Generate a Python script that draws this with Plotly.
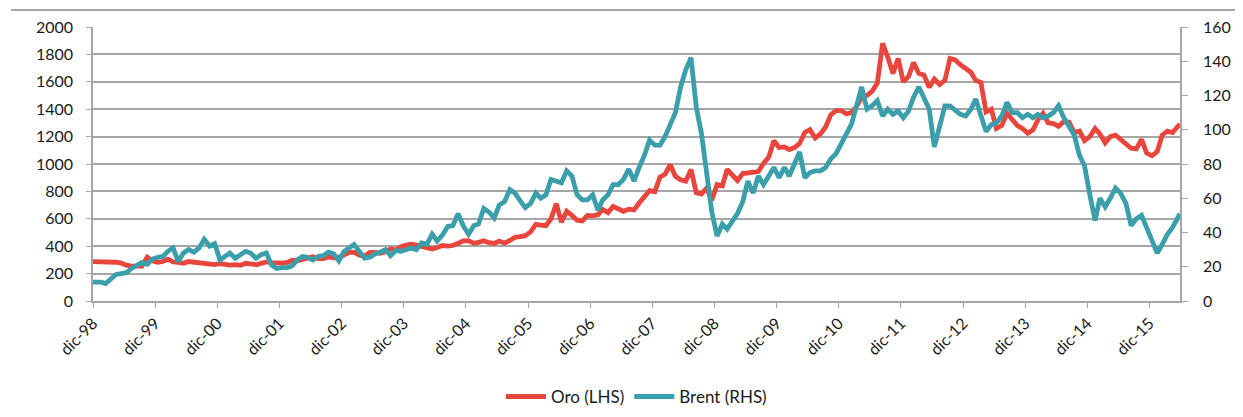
import pandas as pd
import plotly.graph_objects as go

# ---- data (mid-month readings, Dec-98 start, late Jun-16 end) ----
start_date = "1998-12-31"
end_date = "2016-06-28"
mid_month = pd.date_range("1999-01-15", "2016-06-15", freq="MS") + pd.Timedelta(days=14)

oro = [288,
       288, 288, 286, 283, 277, 261, 255, 256, 255, 320, 294, 282,          # 1999
       288, 305, 286, 282, 275, 288, 282, 275, 271, 271, 266, 272,          # 2000
       265, 262, 265, 260, 275, 270, 265, 275, 285, 280, 275, 276,          # 2001
       281, 297, 294, 302, 315, 323, 310, 310, 322, 315, 319, 333,          # 2002
       356, 355, 335, 327, 355, 355, 348, 360, 380, 373, 397, 408,          # 2003
       414, 408, 400, 395, 380, 391, 405, 400, 405, 421, 439, 441,          # 2004
       421, 428, 440, 426, 420, 437, 422, 442, 465, 470, 477, 505,          # 2005
       559, 553, 550, 600, 710, 575, 655, 625, 590, 585, 625, 622,          # 2006
       630, 668, 645, 690, 668, 655, 670, 665, 715, 755, 805, 798,          # 2007
       905, 925, 995, 910, 885, 875, 960, 790, 780, 825, 735, 850,          # 2008
       840, 960, 920, 880, 930, 935, 935, 945, 1005, 1050, 1170, 1120,      # 2009
       1125, 1105, 1120, 1150, 1230, 1250, 1190, 1220, 1270, 1360, 1390, 1390,  # 2010
       1365, 1375, 1420, 1485, 1500, 1530, 1590, 1880, 1780, 1660, 1770, 1600,  # 2011
       1640, 1740, 1660, 1650, 1560, 1620, 1580, 1610, 1770, 1760, 1725, 1695,  # 2012
       1670, 1610, 1595, 1380, 1400, 1260, 1280, 1370, 1320, 1280, 1260, 1225,  # 2013
       1250, 1320, 1370, 1300, 1295, 1275, 1310, 1305, 1230, 1240, 1170, 1200,  # 2014
       1260, 1220, 1155, 1200, 1210, 1180, 1140, 1115, 1110, 1180, 1080, 1060,  # 2015
       1090, 1210, 1240, 1230, 1275, 1290,                                  # 2016
       1320]

brent = [11,
         11, 10.2, 12.5, 15.5, 16, 16.5, 19, 20.5, 22.5, 21.5, 24.5, 25.5,  # 1999
         26, 29, 31, 23, 28, 30, 28.5, 31, 36, 32, 33.5, 24,               # 2000
         26, 28, 25, 27, 29, 28, 25, 27, 28, 21, 19, 19.5,                 # 2001
         19.5, 20.5, 24, 26, 25.5, 24, 26, 26.5, 28.5, 27.5, 23.5, 29,     # 2002
         31, 33, 29, 25, 25.5, 27.5, 28.5, 30, 26.5, 29.5, 29, 30,         # 2003
         31, 30, 34, 33, 39, 35, 38.5, 43.5, 44, 51, 44, 39,               # 2004
         44, 45, 54, 52, 48.5, 56, 58, 65, 63, 58.5, 54.5, 57,             # 2005
         63, 60, 62, 71, 70, 69, 76, 73, 62, 59, 59, 62,                   # 2006
         53, 59, 62, 68, 68, 71, 77, 70, 78, 85, 94, 91,                   # 2007
         91, 96, 103, 110, 125, 135, 142, 113, 98, 72, 52, 38,             # 2008
         45, 42, 47, 51, 58, 70, 63, 73, 68, 73, 78, 72,                   # 2009
         78, 73, 80, 87, 72, 75, 76, 76, 78, 83, 86, 92,                   # 2010
         98, 103, 114, 125, 112, 114, 117, 108, 112, 109, 111, 107,        # 2011
         111, 119, 125, 119, 112, 90, 103, 114, 114, 111, 109, 108,        # 2012
         112, 118, 108, 99, 103, 104, 108, 116, 110, 110, 107, 109,        # 2013
         107, 109, 107, 108, 110, 114, 107, 102, 97, 85, 79, 62,           # 2014
         47, 60, 55, 60, 66, 63, 57, 44, 48, 50, 43, 37,                   # 2015
         28, 33, 39, 43, 48, 51,                                           # 2016
         47]

tick_dates = [f"{y}-12-31" for y in range(1998, 2016)]
tick_labels = ["dic-98", "dic-99", "dic-00", "dic-01", "dic-02", "dic-03",
               "dic-04", "dic-05", "dic-06", "dic-07", "dic-08", "dic-09",
               "dic-10", "dic-11", "dic-12", "dic-13", "dic-14", "dic-15"]

left_ticks = list(range(0, 2001, 200))
right_ticks = list(range(0, 161, 20))

dates = [pd.Timestamp(start_date)] + list(mid_month) + [pd.Timestamp(end_date)]

RED = "#e8453c"
TEAL = "#3a9fab"
GRID = "#a6a6a6"
FONT = "Lato"

fig = go.Figure()
fig.add_trace(go.Scatter(x=dates, y=oro, name="Oro (LHS)", mode="lines",
                         line=dict(color=RED, width=4.8), yaxis="y"))
fig.add_trace(go.Scatter(x=dates, y=brent, name="Brent (RHS)", mode="lines",
                         line=dict(color=TEAL, width=4.8), yaxis="y2"))

# page body has an 8px default margin, so the figure is sized 8px smaller
fig.update_layout(
    width=1235, height=409, autosize=False,
    margin=dict(l=85, r=63, t=19, b=116),
    paper_bgcolor="white", plot_bgcolor="white",
    font=dict(family=FONT, size=16, color="#1a1a1a"),
    xaxis=dict(type="date", range=[start_date, end_date], automargin=False,
               tickmode="array", tickvals=tick_dates, ticktext=tick_labels,
               tickangle=-45, ticks="outside", ticklen=5, tickcolor=GRID,
               showline=True, linecolor=GRID, linewidth=1.5,
               showgrid=False, zeroline=False),
    yaxis=dict(range=[0, 2000], tickmode="array", tickvals=left_ticks,
               automargin=False,
               ticks="outside", ticklen=5, tickcolor=GRID,
               showline=True, linecolor=GRID, linewidth=1.5,
               showgrid=True, gridcolor=GRID, gridwidth=1.5, zeroline=False,
               ticklabelstandoff=10),
    yaxis2=dict(range=[0, 160], tickmode="array", tickvals=right_ticks,
                overlaying="y", side="right", anchor="x", automargin=False,
                ticks="outside", ticklen=6, tickcolor=GRID,
                showline=True, linecolor=GRID, linewidth=1.5,
                showgrid=False, zeroline=False, ticklabelstandoff=12),
    legend=dict(orientation="h", xref="paper", x=0.5, xanchor="center",
                yref="container", y=0.049, yanchor="middle",
                font=dict(family=FONT, size=17),
                bgcolor="rgba(0,0,0,0)", itemwidth=40),
    shapes=[dict(type="line", xref="paper", yref="paper",
                 x0=-0.0754, x1=1.06, y0=1.062, y1=1.062,
                 line=dict(color=GRID, width=2))],
)

fig.write_html("out.html")
